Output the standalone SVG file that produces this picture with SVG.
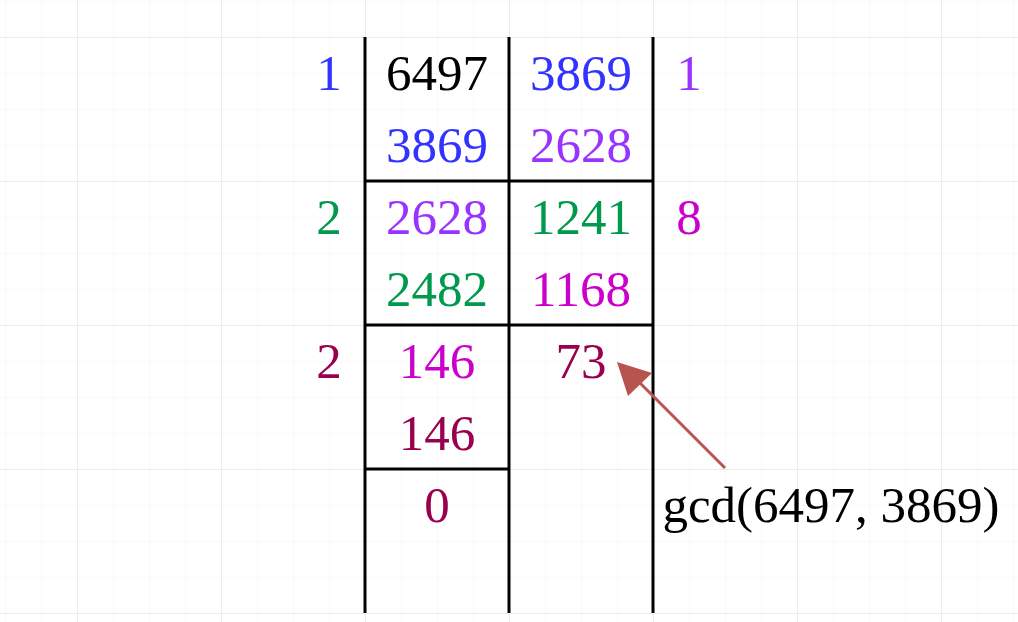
<svg xmlns="http://www.w3.org/2000/svg" width="1018" height="622" viewBox="0 0 1018 622">
<style>
.minor{stroke:#f3f3f3;stroke-width:1}
.major{stroke:#e0e0e0;stroke-width:1}
.rule{stroke:#000;stroke-width:3;fill:none}
text{font-family:"Liberation Serif","DejaVu Serif",serif;font-size:51px;text-anchor:middle}
.blue{fill:#3333ff}.purple{fill:#9933ff}.green{fill:#00994d}.mag{fill:#cc00cc}.crim{fill:#99004d}.blk{fill:#000}
</style>
<defs>
<pattern id="minorGrid" x="5" y="1" width="36" height="36" patternUnits="userSpaceOnUse">
<path d="M0 0H36M0 0V36" class="minor"/>
</pattern>
<pattern id="majorGrid" x="77" y="37" width="144" height="144" patternUnits="userSpaceOnUse">
<path d="M0 0H144M0 0V144" class="major"/>
</pattern>
</defs>
<rect width="1018" height="622" fill="#fff"/>
<rect width="1018" height="622" fill="url(#minorGrid)"/>
<rect width="1018" height="622" fill="url(#majorGrid)"/>
<g id="table">
<path class="rule" d="M365 37V613M509 37V613M653 37V613M365 181H653M365 325H653M365 469H509"/>
</g>
<g id="quotients">
<text class="blue" x="329" y="90">1</text>
<text class="purple" x="689" y="90">1</text>
<text class="green" x="329" y="234">2</text>
<text class="mag" x="689" y="234">8</text>
<text class="crim" x="329" y="378">2</text>
</g>
<g id="col1">
<text class="blk" x="437" y="90">6497</text>
<text class="blue" x="437" y="162">3869</text>
<text class="purple" x="437" y="234">2628</text>
<text class="green" x="437" y="306">2482</text>
<text class="mag" x="437" y="378">146</text>
<text class="crim" x="437" y="450">146</text>
<text class="crim" x="437" y="522">0</text>
</g>
<g id="col2">
<text class="blue" x="581" y="90">3869</text>
<text class="purple" x="581" y="162">2628</text>
<text class="green" x="581" y="234">1241</text>
<text class="mag" x="581" y="306">1168</text>
<text class="crim" x="581" y="378">73</text>
</g>
<g id="label">
<text class="blk" x="831" y="522">gcd(6497, 3869)</text>
</g>
<g id="connectors">
<path d="M725 468L636 379" stroke="#b85450" stroke-width="3" fill="none"/>
<path d="M617 362L652 373L628 396Z" fill="#b85450"/>
</g>
</svg>
